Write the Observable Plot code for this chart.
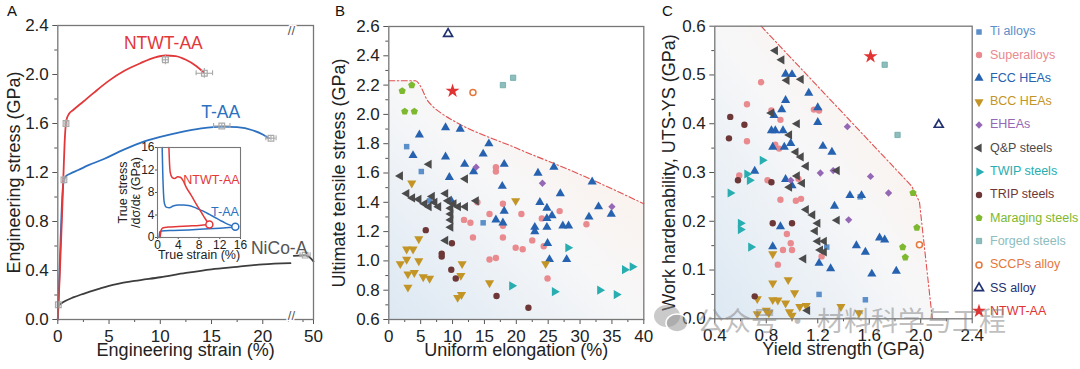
<!DOCTYPE html>
<html><head><meta charset="utf-8">
<script src="https://cdn.jsdelivr.net/npm/d3@7"></script>
<script src="https://cdn.jsdelivr.net/npm/@observablehq/plot@0.6"></script>
<style>
body{margin:0;background:#fff;font-family:"Liberation Sans",Arial,Helvetica,sans-serif;}
#root{position:relative;width:1080px;height:369px;overflow:hidden;background:#fff;}
#root svg{overflow:visible;}
.abs{position:absolute;}
.letter{position:absolute;font-size:15px;line-height:1;color:#111;}
.leg{position:absolute;font-size:12.5px;line-height:1;white-space:nowrap;}
.wm{position:absolute;font-family:"Noto Sans CJK SC",sans-serif;font-size:27px;color:rgba(135,135,135,0.55);white-space:nowrap;line-height:1;}
</style></head>
<body><div id="root"></div>
<script>
// ---------------- DATA ----------------
// Panel A: engineering stress-strain curves [strain %, stress GPa]
const ntwtCurve = [[0,0],[0.2,0.38],[0.4,0.82],[0.55,1.18],[0.7,1.5],[0.85,1.63],[1.1,1.68],[1.5,1.71],[2.5,1.78],[3.5,1.85],[5,1.95],[6.5,2.03],[8,2.09],[9.5,2.14],[10.5,2.155],[11.5,2.15],[12.5,2.12],[13.5,2.07],[14.2,2.02]];
const taaCurve = [[0,0],[0.15,0.35],[0.3,0.72],[0.45,1.02],[0.6,1.14],[0.8,1.17],[1.2,1.19],[2,1.22],[3,1.26],[4.5,1.31],[6,1.37],[8,1.44],[10,1.49],[12,1.53],[14,1.56],[16,1.575],[17.5,1.57],[19,1.545],[20,1.51],[20.6,1.48]];
const nicoCurve = [[0,0.11],[0.5,0.14],[1.5,0.18],[2.5,0.21],[4,0.25],[5,0.275],[7.5,0.315],[10,0.345],[12.5,0.38],[15,0.41],[17.5,0.43],[20,0.45],[22.7,0.46]];
const nicoTail = [[45.3,0.52],[46.5,0.522],[48,0.523],[49,0.51],[50,0.475]];
// fracture / yield markers with error bars [x, y, xErr, yErr]
const errMarks = [[0.05,0.12,0.1,0.02],[0.6,1.14,0.1,0.03],[0.8,1.6,0.1,0.03],[10.5,2.12,0.3,0.04],[14.3,2.01,0.8,0.04],[16.0,1.58,0.8,0.02],[20.8,1.48,0.5,0.02],[48.0,0.525,1.2,0.01]];
const aXTicks = [0,5,10,15,20,50];
const aXMinor = [2.5,7.5,12.5,17.5,22.5,47.5];
const aYTicks = [0,0.4,0.8,1.2,1.6,2.0,2.4];
const aYMinor = [0.2,0.6,1.0,1.4,1.8,2.2];
const aBreak = [22.7, 45]; // axis break between these strains
const aLabels = [{text:"NTWT-AA",x:10.3,y:2.25,color:"#e2383a"},{text:"T-AA",x:15.9,y:1.69,color:"#2c70c0"},{text:"NiCo-A",x:21.6,y:0.58,color:"#555555"}];

// Inset: work hardening rate and true stress vs true strain
const insNtwtTheta = [[2.2,16],[2.3,13.5],[2.45,11.6],[2.8,10.7],[3.3,10.5],[3.9,10.8],[4.4,10.7],[5,10.0],[5.5,9.0],[6.5,7.5],[7.5,5.9],[8.5,4.4],[9.3,3.2],[9.9,2.4]];
const insNtwtStress = [[0.5,0],[0.7,1.3],[1,1.7],[2,1.85],[4,1.95],[6,2.05],[8,2.15],[10,2.3]];
const insTaaTheta = [[0.9,16],[1.0,12],[1.15,8],[1.35,6],[1.7,5.4],[2.3,5.3],[3,5.6],[4,5.8],[5,5.8],[6,5.7],[7,5.4],[8,5.0],[9,4.6],[10,4.1],[11,3.6],[12,3.1],[13,2.6],[14,2.2],[15,1.9]];
const insTaaStress = [[0.3,0],[0.45,1.0],[0.8,1.15],[3,1.25],[6,1.35],[9,1.5],[12,1.65],[15,1.85]];
const insEnds = [{x:10,y:2.3,color:"#e2383a"},{x:15,y:1.9,color:"#2c70c0"}];
const insTicks = [0,4,8,12,16];
const insLabels = [{text:"NTWT-AA",x:10.4,y:10.2,color:"#e2383a"},{text:"T-AA",x:13,y:4.5,color:"#2c70c0"}];

// Categories (legend order)
const categories = ["Ti alloys","Superalloys","FCC HEAs","BCC HEAs","EHEAs","Q&P steels","TWIP steels","TRIP steels","Maraging steels","Forged steels","SCCPs alloy","SS alloy","NTWT-AA"];
const catColors = ["#5b8fc9","#e98a8f","#2662b0","#c39526","#9568b6","#4b4b4b","#28adb0","#6d3737","#7db82f","#8dbdbd","#e5773b","#1f3170","#e23333"];

// Panel B: [uniform elongation %, UTS GPa]
const B_ti = [[2.8,1.78],[5.1,1.61],[6.4,1.41],[14.8,1.26]];
const B_super = [[13.9,1.40],[11.8,1.28],[12.8,1.26],[13.2,1.16],[15.8,1.32],[15.8,1.01],[16.8,1.02],[16.8,1.64],[16.8,1.61],[17.9,1.39],[17.9,1.24],[17.9,1.16],[19.9,1.09],[21,1.08],[20.8,1.32],[22.5,1.14],[24,1.29],[24.3,1.10],[24.9,0.88],[26.8,1.34],[31,1.25]];
const B_fcc = [[4.8,1.86],[8.9,1.91],[11.2,1.90],[3.8,1.72],[8.9,1.71],[9.5,1.57],[9.8,1.41],[11.9,1.66],[13.3,1.61],[14.8,1.73],[15.7,1.80],[18.1,1.66],[17.8,1.51],[18.1,1.34],[16.8,1.28],[17.9,1.26],[23.4,1.60],[23.7,1.40],[22.9,1.23],[22.9,1.20],[24.8,1.36],[24.8,1.29],[24.8,1.23],[25.6,1.31],[25.9,1.64],[24.9,1.12],[25.2,1.01],[26.9,1.46],[27.3,1.24],[28.2,1.24],[27.9,1.01],[31.9,1.54],[31.4,1.30],[32.9,1.37],[34.9,1.32]];
const B_bcc = [[3.6,1.53],[1.8,0.98],[2.8,1.08],[3.8,1.08],[2.8,1.01],[4.7,1.00],[3.0,0.91],[4.0,0.92],[5.4,0.89],[6.4,0.88],[3.0,0.82],[4.7,1.15],[11.5,0.98],[11.3,0.90],[11.4,0.77],[10.8,0.75],[15.8,0.85],[19.9,1.41],[24.6,0.98]];
const B_ehea = [[13.7,1.64],[24.1,1.53],[35,1.37]];
const B_qp = [[1.8,1.58],[6.3,1.66],[12,1.56],[2.8,1.46],[3.7,1.43],[4.7,1.42],[5.6,1.39],[6.3,1.37],[6.8,1.44],[7.8,1.37],[8.9,1.46],[9.3,1.41],[10.2,1.39],[9.7,1.36],[9.7,1.32],[9.7,1.28],[9.7,1.23],[10.9,1.37],[12,1.37],[13.7,1.41],[8.9,1.14],[7.2,1.40]];
const B_twip = [[28.1,1.09],[19.3,0.83],[26,0.79],[33.1,0.80],[35.7,0.77],[37,0.94],[38.2,0.96]];
const B_trip = [[5.8,1.21],[8.3,1.05],[8.3,1.03],[9.9,1.12],[9.8,0.94],[10.5,0.88],[16.9,0.76],[21.9,0.68]];
const B_mar = [[2.1,2.16],[3.6,2.20],[2.5,2.02],[4.0,2.02]];
const B_forged = [[17.9,2.20],[19.5,2.25]];
const B_sccp = [[13.2,2.15]];
const B_ss = [[9.3,2.55]];
const B_ntwt = [[10,2.16]];
const B_boundary = [[0,2.23],[4.2,2.23],[5,2.19],[6,2.1],[7,2.05],[8.5,2.0],[10,1.96],[20,1.77],[30,1.59],[40,1.39]];
const bXTicks = [0,5,10,15,20,25,30,35,40];
const bXMinor = [2.5,7.5,12.5,17.5,22.5,27.5,32.5,37.5];
const bYTicks = [0.6,0.8,1.0,1.2,1.4,1.6,1.8,2.0,2.2,2.4,2.6];
const bYMinor = [0.7,0.9,1.1,1.3,1.5,1.7,1.9,2.1,2.3,2.5];

// Panel C: [yield strength GPa, UTS-YS GPa]
const C_ti = [[1.21,0.05],[1.57,0.039],[1.27,0.147],[1.53,0.25]];
const C_super = [[0.76,0.485],[0.65,0.44],[0.65,0.364],[0.59,0.294],[0.84,0.427],[0.91,0.408],[0.87,0.357],[0.9,0.349],[0.81,0.284],[0.91,0.244],[1.03,0.242],[1.07,0.246],[1.05,0.287],[0.96,0.174],[0.99,0.155],[1.0,0.141],[0.93,0.141],[0.89,0.111],[1.17,0.429],[1.21,0.427],[1.23,0.128]];
const C_fcc = [[0.95,0.502],[1.0,0.501],[0.95,0.448],[1.13,0.463],[1.2,0.433],[1.2,0.403],[1.24,0.354],[0.86,0.417],[0.87,0.386],[0.84,0.386],[0.92,0.429],[0.93,0.386],[0.85,0.352],[0.94,0.352],[0.99,0.36],[0.95,0.286],[1.0,0.273],[0.91,0.189],[0.85,0.148],[1.31,0.342],[1.33,0.231],[1.21,0.114],[1.3,0.103],[1.45,0.253],[1.54,0.253],[1.5,0.15],[1.57,0.137],[1.62,0.092],[1.68,0.166],[1.72,0.162],[1.81,0.098],[0.71,0.303]];
const C_bcc = [[0.85,0.133],[0.85,0.073],[0.97,0.08],[1.02,0.053],[0.85,0.039],[0.89,0.038],[0.95,0.032],[0.98,0.014],[1.0,0.007],[1.06,0.025],[1.11,0.027],[0.8,0.017],[0.73,0.01],[0.73,0.041],[0.82,0.012],[1.38,0.025],[1.52,0.012]];
const C_ehea = [[1.43,0.394],[1.22,0.299],[1.32,0.304],[1.61,0.292],[1.75,0.258],[1.44,0.203],[0.99,0.284]];
const C_qp = [[0.87,0.55],[0.92,0.531],[0.96,0.489],[1.07,0.491],[1.04,0.4],[0.98,0.377],[1.03,0.342],[1.07,0.332],[1.11,0.313],[1.04,0.293],[1.08,0.278],[0.98,0.27],[0.84,0.422],[1.11,0.224],[1.16,0.213],[1.2,0.196],[1.18,0.18],[1.2,0.159],[1.25,0.159],[1.22,0.141],[1.25,0.137],[1.35,0.202],[1.35,0.304],[1.09,0.123],[1.12,0.017]];
const C_twip = [[0.52,0.258],[0.6,0.196],[0.6,0.183],[0.68,0.147],[0.65,0.297],[0.67,0.284],[0.77,0.325]];
const C_trip = [[0.52,0.414],[0.51,0.37],[0.63,0.398],[0.58,0.284],[0.84,0.28],[0.85,0.196],[1.0,0.196],[0.71,0.046]];
const C_mar = [[1.94,0.258],[1.97,0.187],[1.86,0.147],[1.88,0.126]];
const C_forged = [[1.72,0.521],[1.82,0.377]];
const C_sccp = [[1.99,0.152]];
const C_ss = [[2.14,0.398]];
const C_ntwt = [[1.61,0.538]];
const C_boundary = [[0.4,0.6],[0.76,0.6],[1.93,0.272],[1.99,0.24],[2.09,0]];
const cXTicks = [0.4,0.8,1.2,1.6,2.0,2.4];
const cXMinor = [0.6,1.0,1.4,1.8,2.2];
const cYTicks = [0,0.1,0.2,0.3,0.4,0.5,0.6];
const cYMinor = [0.05,0.15,0.25,0.35,0.45,0.55];

// ---------------- SYMBOLS ----------------
const sqrt3 = Math.sqrt(3);
const triDown = {draw(c,s){const y=-Math.sqrt(s/(sqrt3*3));c.moveTo(0,-2*y);c.lineTo(-sqrt3*y,y);c.lineTo(sqrt3*y,y);c.closePath();}};
const triLeft = {draw(c,s){const y=-Math.sqrt(s/(sqrt3*3));c.moveTo(2*y,0);c.lineTo(-y,-sqrt3*y);c.lineTo(-y,sqrt3*y);c.closePath();}};
const triRight = {draw(c,s){const y=-Math.sqrt(s/(sqrt3*3));c.moveTo(-2*y,0);c.lineTo(y,sqrt3*y);c.lineTo(y,-sqrt3*y);c.closePath();}};
const pentagon = {draw(c,s){const R=Math.sqrt(s/(2.5*Math.sin(2*Math.PI/5)));for(let k=0;k<5;k++){const a=-Math.PI/2+k*2*Math.PI/5;k?c.lineTo(R*Math.cos(a),R*Math.sin(a)):c.moveTo(R*Math.cos(a),R*Math.sin(a));}c.closePath();}};

const catStyle = [
  {symbol:"square", r:3.1},
  {symbol:"circle", r:3.2},
  {symbol:"triangle", r:3.4},
  {symbol:triDown, r:3.4},
  {symbol:"diamond2", r:3.3},
  {symbol:triLeft, r:3.4},
  {symbol:triRight, r:3.4},
  {symbol:"circle", r:3.2},
  {symbol:pentagon, r:3.3},
  {symbol:"square", r:3.0, stroke:"#6fa9a9", sw:0.8},
  {symbol:"circle", r:3.0, fill:"white", stroke:"#e5773b", sw:1.5},
  {symbol:"triangle", r:3.3, fill:"white", stroke:"#1f3170", sw:1.7},
  {symbol:"star", r:4.4}
];
const d3Sym = {square:d3.symbolSquare,circle:d3.symbolCircle,triangle:d3.symbolTriangle,diamond2:d3.symbolDiamond2,star:d3.symbolStar};

function catDots(data, i){
  const st = catStyle[i];
  return Plot.dot(data, {x:d=>d[0], y:d=>d[1], symbol:st.symbol, r:st.r,
    fill: st.fill || catColors[i], stroke: st.stroke || "none", strokeWidth: st.sw || 0});
}

function gradientDefs(id){
  return () => {
    const defs = d3.create("svg:defs");
    const g = defs.append("linearGradient").attr("id",id).attr("x1",0).attr("y1",1).attr("x2",1).attr("y2",0);
    [["0%","#dce8f3"],["50%","#f7f7f8"],["100%","#fdeee4"]].forEach(([o,c])=>g.append("stop").attr("offset",o).attr("stop-color",c));
    return defs.node();
  };
}

const FONT = '"Liberation Sans", Arial, Helvetica, sans-serif';
const baseStyle = {fontFamily:FONT, fontSize:"17px", color:"#222", background:"transparent", overflow:"visible", maxWidth:"none"};
const TICK = "#555";

function axes(xt, xm, yt, ym, xf, yf){
  return [
    Plot.axisX({ticks:xt, tickFormat:xf, tickSize:5, tickPadding:5, label:null, stroke:TICK}),
    Plot.axisX({ticks:xm, tickFormat:()=>"", tickSize:3, label:null, stroke:TICK}),
    Plot.axisY({ticks:yt, tickFormat:yf, tickSize:5, tickPadding:4, label:null, stroke:TICK}),
    Plot.axisY({ticks:ym, tickFormat:()=>"", tickSize:3, label:null, stroke:TICK})
  ];
}

const root = document.getElementById("root");
function place(el, left, top){ const d=document.createElement("div"); d.className="abs"; d.style.left=left+"px"; d.style.top=top+"px"; d.appendChild(el); root.appendChild(d); return d; }

// ---------------- PANEL A ----------------
// broken axis: strains beyond the break are compressed into the short right segment
const BRK_GAP = 0.2, BRK_K = 0.41;
const brk = v => v <= aBreak[0] ? v : aBreak[0] + BRK_GAP + (v - aBreak[1]) * BRK_K;
const unbrk = v => v <= aBreak[0] + 0.05 ? v : aBreak[1] + (v - aBreak[0] - BRK_GAP) / BRK_K;
const aXmax = brk(50);
const bx = d => brk(d[0]);
const curveOpts = {x:bx, y:d=>d[1], curve:"monotone-x", strokeWidth:1.8};
const plotA = Plot.plot({
  width:330, height:369, marginLeft:57.3, marginRight:17, marginTop:25, marginBottom:50,
  x:{domain:[0, aXmax]},
  y:{domain:[0,2.4]},
  style:baseStyle,
  marks:[
    ...axes(aXTicks.map(brk), aXMinor.map(brk), aYTicks, aYMinor, d=>String(Math.round(unbrk(d))), d=>d.toFixed(1)),
    Plot.line(nicoCurve, {...curveOpts, stroke:"#3d3d3d"}),
    Plot.line(nicoTail, {...curveOpts, stroke:"#3d3d3d"}),
    Plot.line(taaCurve, {...curveOpts, stroke:"#2c70c0"}),
    Plot.line(ntwtCurve, {...curveOpts, stroke:"#e2383a"}),
    Plot.ruleY(errMarks, {y:d=>d[1], x1:d=>brk(d[0]-d[2]), x2:d=>brk(d[0]+d[2]), stroke:"#aaa", strokeWidth:1.1}),
    Plot.ruleX(errMarks, {x:bx, y1:d=>d[1]-d[3], y2:d=>d[1]+d[3], stroke:"#aaa", strokeWidth:1.1}),
    Plot.ruleX(errMarks.flatMap(d=>[[d[0]-d[2],d[1]],[d[0]+d[2],d[1]]]), {x:bx, y1:d=>d[1]-0.02, y2:d=>d[1]+0.02, stroke:"#aaa", strokeWidth:1.1}),
    Plot.dot(errMarks, {x:bx, y:d=>d[1], symbol:"square", r:3.2, fill:"none", stroke:"#aaa", strokeWidth:1.2}),
    Plot.frame({stroke:"#777", strokeWidth:1.3}),
    Plot.text([aBreak[0]+0.1], {x:d=>d, frameAnchor:"top", textAnchor:"middle", text:()=>"//", fontSize:13, fill:"#555", stroke:"white", strokeWidth:3}),
    Plot.text([aBreak[0]+0.1], {x:d=>d, frameAnchor:"bottom", textAnchor:"middle", text:()=>"//", fontSize:13, fill:"#555", stroke:"white", strokeWidth:3}),
    Plot.text(aLabels, {x:d=>brk(d.x), y:"y", text:"text", fill:"color", fontSize:17.5}),
    Plot.text(["Engineering strain (%)"], {text:d=>d, frameAnchor:"bottom", textAnchor:"middle", dy:36, fontSize:18}),
    Plot.text(["Engineering stress (GPa)"], {text:d=>d, frameAnchor:"left", textAnchor:"middle", rotate:-90, dx:-44, fontSize:18})
  ]
});
place(plotA, 0, 0);

// Inset
const plotIn = Plot.plot({
  width:131, height:127, marginLeft:42, marginRight:6, marginTop:9, marginBottom:28,
  x:{domain:[0,16]}, y:{domain:[0,16]},
  style:{...baseStyle, fontSize:"12px"},
  marks:[
    Plot.frame({fill:"white"}),
    Plot.axisX({ticks:insTicks, tickSize:2, tickPadding:1, label:null, stroke:TICK}),
    Plot.axisY({ticks:insTicks, tickSize:2, tickPadding:1, label:null, stroke:TICK}),
    Plot.line(insTaaStress, {x:d=>d[0], y:d=>d[1], curve:"monotone-x", stroke:"#2c70c0", strokeWidth:1.5}),
    Plot.line(insNtwtStress, {x:d=>d[0], y:d=>d[1], curve:"monotone-x", stroke:"#e2383a", strokeWidth:1.5}),
    Plot.line(insTaaTheta, {x:d=>d[0], y:d=>d[1], curve:"monotone-x", stroke:"#2c70c0", strokeWidth:1.5}),
    Plot.line(insNtwtTheta, {x:d=>d[0], y:d=>d[1], curve:"monotone-x", stroke:"#e2383a", strokeWidth:1.5}),
    Plot.dot(insEnds, {x:"x", y:"y", r:3.5, stroke:"color", fill:"white", strokeWidth:1.5}),
    Plot.frame({stroke:"#777", strokeWidth:1.1}),
    Plot.text(insLabels, {x:"x", y:"y", text:"text", fill:"color", fontSize:12.5}),
    Plot.text(["True strain (%)"], {text:d=>d, frameAnchor:"bottom", textAnchor:"middle", dy:21, fontSize:12.5}),
    Plot.text(["True stress\n/dσ/dε (GPa)"], {text:d=>d, frameAnchor:"left", textAnchor:"middle", rotate:-90, dx:-28, fontSize:12.5})
  ]
});
place(plotIn, 115, 138);

// ---------------- PANEL B ----------------
const B_sets = [B_ti,B_super,B_fcc,B_bcc,B_ehea,B_qp,B_twip,B_trip,B_mar,B_forged,B_sccp,B_ss,B_ntwt];
const plotB = Plot.plot({
  width:330, height:369, marginLeft:58.3, marginRight:16.7, marginTop:26, marginBottom:50,
  x:{domain:[0,40]}, y:{domain:[0.6,2.6]},
  style:baseStyle,
  marks:[
    gradientDefs("gradB"),
    Plot.areaY(B_boundary, {x:d=>d[0], y1:0.6, y2:d=>d[1], fill:"url(#gradB)"}),
    Plot.line(B_boundary, {x:d=>d[0], y:d=>d[1], stroke:"#e25050", strokeWidth:1.1, strokeDasharray:"6,2.5,1.5,2.5", curve:"monotone-x"}),
    ...axes(bXTicks, bXMinor, bYTicks, bYMinor, d=>String(d), d=>d.toFixed(1)),
    ...B_sets.map((s,i)=>catDots(s,i)),
    Plot.frame({stroke:"#777", strokeWidth:1.3}),
    Plot.text(["Uniform elongation (%)"], {text:d=>d, frameAnchor:"bottom", textAnchor:"middle", dy:36, fontSize:18}),
    Plot.text(["Ultimate tensile stress (GPa)"], {text:d=>d, frameAnchor:"left", textAnchor:"middle", rotate:-90, dx:-50, fontSize:18})
  ]
});
place(plotB, 330, 0);

// ---------------- PANEL C ----------------
const C_sets = [C_ti,C_super,C_fcc,C_bcc,C_ehea,C_qp,C_twip,C_trip,C_mar,C_forged,C_sccp,C_ss,C_ntwt];
const plotC = Plot.plot({
  width:320, height:369, marginLeft:54.3, marginRight:8.3, marginTop:25.7, marginBottom:50.7,
  x:{domain:[0.4,2.4]}, y:{domain:[0,0.6]},
  style:baseStyle,
  marks:[
    gradientDefs("gradC"),
    Plot.areaY(C_boundary, {x:d=>d[0], y1:0, y2:d=>d[1], fill:"url(#gradC)"}),
    Plot.line(C_boundary.slice(1), {x:d=>d[0], y:d=>d[1], stroke:"#e25050", strokeWidth:1.1, strokeDasharray:"6,2.5,1.5,2.5"}),
    ...axes(cXTicks, cXMinor, cYTicks, cYMinor, d=>d.toFixed(1), d=>d.toFixed(1)),
    ...C_sets.map((s,i)=>catDots(s,i)),
    Plot.frame({stroke:"#777", strokeWidth:1.3}),
    Plot.text(["Yield strength (GPa)"], {text:d=>d, frameAnchor:"bottom", textAnchor:"middle", dy:36, fontSize:18}),
    Plot.text(["Work hardenability, UTS-YS (GPa)"], {text:d=>d, frameAnchor:"left", textAnchor:"middle", rotate:-90, dx:-46, fontSize:18})
  ]
});
place(plotC, 660, 0);

// ---------------- LEGEND ----------------
categories.forEach((name,i)=>{
  const cy = 31.7 + i*23.3;
  const st = catStyle[i];
  const type = typeof st.symbol === "string" ? d3Sym[st.symbol] : st.symbol;
  const size = Math.PI*st.r*st.r;
  const svg = d3.create("svg").attr("width",16).attr("height",16);
  svg.append("path").attr("transform","translate(8,8)").attr("d", d3.symbol(type,size)())
    .attr("fill", st.fill || catColors[i]).attr("stroke", st.stroke || "none").attr("stroke-width", st.sw || 0);
  place(svg.node(), 971.3, cy-8);
  const t = document.createElement("div");
  t.className = "leg"; t.textContent = name; t.style.color = catColors[i];
  t.style.left = "990px"; t.style.top = (cy-6.5)+"px";
  root.appendChild(t);
});

// ---------------- PANEL LETTERS ----------------
[["A",7],["B",335],["C",662]].forEach(([s,x])=>{
  const d=document.createElement("div"); d.className="letter"; d.textContent=s; d.style.left=x+"px"; d.style.top="3px"; root.appendChild(d);
});

// ---------------- WATERMARK ----------------
const logo = d3.create("svg").attr("width",40).attr("height",34);
logo.append("ellipse").attr("cx",15).attr("cy",14).attr("rx",13).attr("ry",11).attr("fill","rgba(150,150,150,0.5)");
logo.append("ellipse").attr("cx",25).attr("cy",21).attr("rx",11).attr("ry",9).attr("fill","rgba(150,150,150,0.55)").attr("stroke","white").attr("stroke-width",1.5);
place(logo.node(), 652, 302);
const wm = document.createElement("div");
wm.className="wm"; wm.textContent="公众号 · 材料科学与工程"; wm.style.left="697px"; wm.style.top="306px";
root.appendChild(wm);
</script>
</body></html>
